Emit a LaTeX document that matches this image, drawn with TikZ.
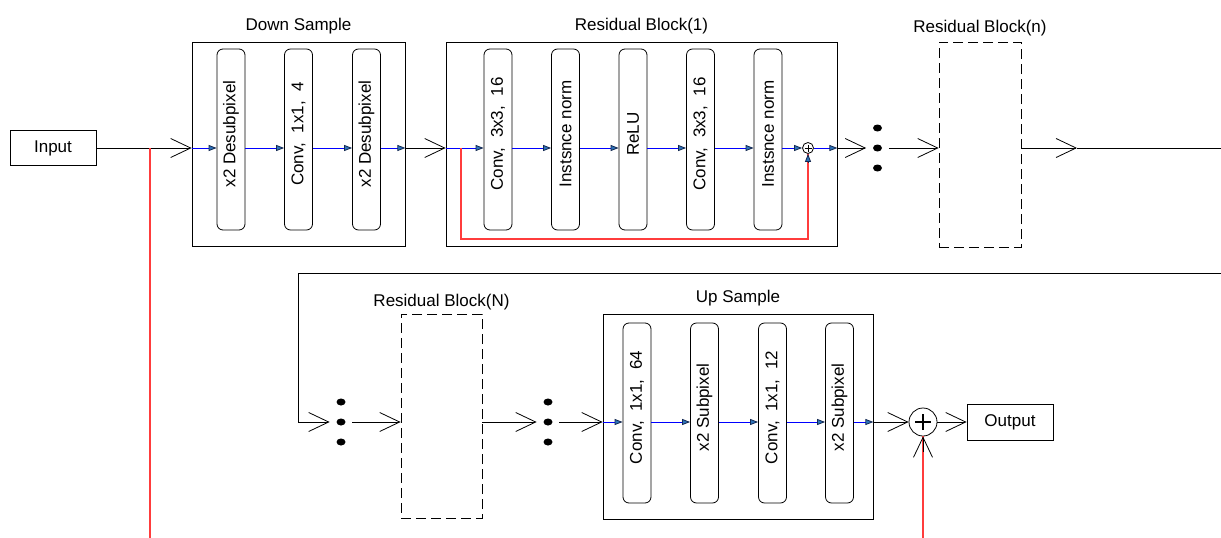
\documentclass[tikz,border=0pt]{standalone}
\usepackage{fontspec}
\setmainfont{Liberation Sans}
\usepackage{graphicx}
\usetikzlibrary{arrows.meta,positioning,calc}
\definecolor{tipblue}{RGB}{45,115,185}
\definecolor{tipedge}{RGB}{20,40,80}
\definecolor{skipred}{RGB}{255,60,60}
\newcommand{\vtext}[1]{\rotatebox{90}{\hspace*{11pt}#1}}
\tikzset{
  every node/.style={font=\fontsize{17}{20}\selectfont},
  plainbox/.style={draw,minimum width=86pt,minimum height=35pt,inner sep=0pt},
  layer/.style={draw,rounded corners=6pt,minimum width=28pt,minimum height=#1,inner sep=0pt},
  stage/.style={draw,inner sep=0pt},
  ghost/.style={draw,dash pattern=on 10pt off 5pt,inner sep=0pt},
  title/.style={anchor=base,inner sep=0pt},
  vdots/.style={minimum width=22pt,minimum height=50pt,inner sep=0pt},
  bigarrow/.style={-{Straight Barb[length=20pt,width=19pt]}},
  flow/.style={blue,-{Triangle[length=8pt,width=6pt,color=tipedge,fill=tipblue]}},
  tiponly/.style={tipedge,-{Triangle[length=8pt,width=6pt,fill=tipblue]}},
  skip/.style={draw=skipred,line width=1.3pt}
}
\begin{document}
\begin{tikzpicture}[x=1pt,y=-1pt,line width=0.8pt]
    \useasboundingbox (0,0) rectangle (1221,538);
    % top row
    \node[plainbox] (input) at (53,148) {Input};
    \node[stage,minimum width=213pt,minimum height=204pt] (down) at (298.5,144) {};
    \node[title] (downttl) at ([yshift=11pt]down.north) {Down Sample};
    \node[layer=181pt] (d1) at (231,139.5) {\vtext{x2 Desubpixel}};
    \node[layer=181pt] (d2) at (298.5,139.5) {\vtext{Conv,\ \ 1x1,\ \ 4}};
    \node[layer=181pt] (d3) at (366.5,139.5) {\vtext{x2 Desubpixel}};
    \node[stage,minimum width=391pt,minimum height=204pt] (rb1) at (641.5,144) {};
    \node[title] (rb1ttl) at ([yshift=11pt]rb1.north) {Residual Block(1)};
    \node[layer=181pt] (r1) at (498,139.5) {\vtext{Conv,\ \ 3x3,\ \ 16}};
    \node[layer=181pt] (r2) at (565.5,139.5) {\vtext{Instsnce norm}};
    \node[layer=181pt] (r3) at (633,139.5) {\vtext{ReLU}};
    \node[layer=181pt] (r4) at (700.5,139.5) {\vtext{Conv,\ \ 3x3,\ \ 16}};
    \node[layer=181pt] (r5) at (768,139.5) {\vtext{Instsnce norm}};
    \node[draw,circle,minimum size=11pt,inner sep=0pt,
          path picture={\draw[line width=0.6pt] ([xshift=-3.5pt]path picture bounding box.center) -- ([xshift=3.5pt]path picture bounding box.center)
                        ([yshift=-3.5pt]path picture bounding box.center) -- ([yshift=3.5pt]path picture bounding box.center);}] (sum1) at (808,148) {};
    \node[vdots] (dots1) at (877.5,148) {};
    \node[ghost,minimum width=82pt,minimum height=205pt] (rbn) at (980,144.5) {};
    \node[title] (rbnttl) at ([yshift=9pt]rbn.north) {Residual Block(n)};
    \coordinate (rbnmid) at (1077,148);
    \coordinate (topend) at (1221,148);
    \coordinate (skipA) at (150,148);
    \coordinate (skipAend) at (150,538);
    \coordinate (rsplit) at (461,148);
    % bottom row
    \coordinate (loopin) at (1221,273);
    \coordinate (loopcorner) at (298,273);
    \node[vdots] (dots3) at (341,422) {};
    \node[ghost,minimum width=81pt,minimum height=204pt] (rbN) at (441.5,416) {};
    \node[title] (rbNttl) at ([yshift=7pt]rbN.north) {Residual Block(N)};
    \node[vdots] (dots4) at (548,422) {};
    \node[stage,minimum width=270pt,minimum height=205pt] (up) at (738,416.5) {};
    \node[title] (upttl) at ([yshift=11pt]up.north) {Up Sample};
    \node[layer=180pt] (u1) at (637,413) {\vtext{Conv,\ \ 1x1,\ \ 64}};
    \node[layer=180pt] (u2) at (704.5,413) {\vtext{x2 Subpixel}};
    \node[layer=180pt] (u3) at (772.5,413) {\vtext{Conv,\ \ 1x1,\ \ 12}};
    \node[layer=180pt] (u4) at (839.5,413) {\vtext{x2 Subpixel}};
    \node[draw,circle,minimum size=28pt,inner sep=0pt,
          path picture={\draw[line width=2.6pt] ([xshift=-8pt]path picture bounding box.center) -- ([xshift=8pt]path picture bounding box.center)
                        ([yshift=-8pt]path picture bounding box.center) -- ([yshift=8pt]path picture bounding box.center);}] (sum2) at (923,422) {};
    \node[plainbox,minimum height=36pt] (output) at (1010,422) {Output};
    \coordinate (skipB) at (923,538);
    \foreach \n in {dots1,dots3,dots4}
        {\foreach \dy in {-20,0,20}
            \fill ([yshift=\dy pt]\n.center) ellipse (4.5pt and 3.5pt);
        }
    % connectors
    \draw[bigarrow] (input.east) -- (input -| down.west);
    \foreach \a/\b in {down.west/d1.west,d1.east/d2.west,d2.east/d3.west,d3.east/down.east}
        \draw[flow] (input -| \a) -- (input -| \b);
    \draw[bigarrow] (input -| down.east) -- (input -| rb1.west);
    \foreach \a/\b in {rb1.west/r1.west,r1.east/r2.west,r2.east/r3.west,r3.east/r4.west,r4.east/r5.west,r5.east/sum1.west,sum1.east/rb1.east}
        \draw[flow] (input -| \a) -- (input -| \b);
    \draw[skip] (rsplit) -- ++(0,91) -| (sum1.south);
    \draw[tiponly] ([yshift=-8pt]sum1.south) -- (sum1.south);
    \draw[bigarrow] (input -| rb1.east) -- (dots1.west);
    \draw[bigarrow] (dots1.east) -- (input -| rbn.west);
    \draw[bigarrow] (input -| rbn.east) -- (rbnmid);
    \draw (rbnmid) -- (topend);
    \draw[skip] (skipA) -- (skipAend);
    \draw[bigarrow] (loopin) -- (loopcorner) |- (dots3.west);
    \draw[bigarrow] (dots3.east) -- (dots3 -| rbN.west);
    \draw[bigarrow] (dots3 -| rbN.east) -- (dots4.west);
    \draw[bigarrow] (dots4.east) -- (dots4 -| up.west);
    \foreach \a/\b in {up.west/u1.west,u1.east/u2.west,u2.east/u3.west,u3.east/u4.west,u4.east/up.east}
        \draw[flow] (sum2 -| \a) -- (sum2 -| \b);
    \draw[bigarrow] (sum2 -| up.east) -- (sum2.west);
    \draw[bigarrow] (sum2.east) -- (output.west);
    \draw[skip] (skipB) -- (sum2.south);
    \draw[bigarrow] ([yshift=-16pt]sum2.south) -- (sum2.south);
\end{tikzpicture}
\end{document}
